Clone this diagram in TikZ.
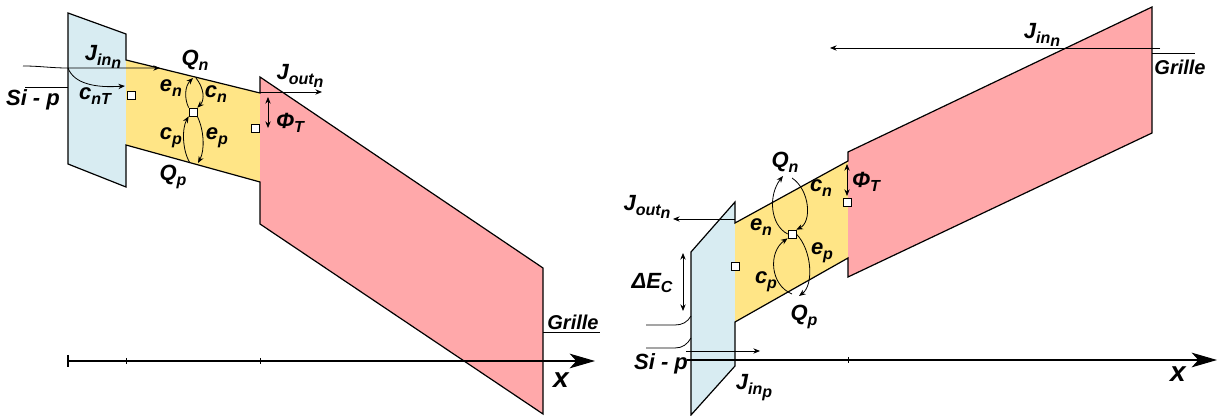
\documentclass[tikz,border=0pt]{standalone}
\usepackage{fontspec}
\setmainfont{Liberation Sans}
\usetikzlibrary{arrows.meta}
\definecolor{oxblue}{RGB}{216,236,242}
\definecolor{chyellow}{RGB}{255,229,134}
\definecolor{grpink}{RGB}{255,168,170}
\newcommand{\lsub}[1]{\raisebox{-0.4ex}{\fontsize{12}{14}\selectfont #1}}

\begin{document}
\begin{tikzpicture}[x=0.75pt, y=-0.75pt, >={Stealth[length=5pt,width=4pt]},
    lbl/.style={font=\fontsize{16.5}{18}\selectfont\bfseries\itshape, inner sep=0pt},
    grlbl/.style={font=\fontsize{15}{17}\selectfont\bfseries\itshape, inner sep=0pt},
    axlbl/.style={font=\fontsize{21}{23}\selectfont\bfseries\itshape, inner sep=0pt},
    trap/.style={draw, fill=white, line width=0.5pt, minimum size=6pt, inner sep=0pt},
    band/.style={line width=0.9pt, line join=miter},
    flux/.style={->, line width=0.6pt},
    axis/.style={-{Stealth[length=19pt,width=11pt,inset=5pt]}, line width=0.8pt}]
    \useasboundingbox (0,0) rectangle (1218,416);

    % Regions (left: programming)
    \fill[oxblue] (68,13) -- (126,34) -- (126,187) -- (68,164) -- cycle;
    \fill[chyellow] (126,60) -- (260,93) -- (260,182) -- (126,145) -- cycle;
    \fill[grpink] (260,77) -- (543,268) -- (543,414) -- (260,224) -- cycle;
    % Regions (right: erasing)
    \fill[oxblue] (691,252) -- (735,202) -- (735,366) -- (691,415) -- cycle;
    \fill[chyellow] (735,223) -- (848,161) -- (848,258) -- (735,322) -- cycle;
    \fill[grpink] (848,152) -- (1152,7) -- (1152,133) -- (848,277) -- cycle;

    % Axes
    \draw[axis] (68,361) -- (595,361);
    \draw[line width=0.8pt] (68,355) -- (68,367);
    \draw[line width=0.6pt] (126,358) -- (126,364) (260,358) -- (260,364);
    \draw[axis] (687,360) -- (1217,360);
    \draw[line width=0.6pt] (848,357) -- (848,363);

    % Band edges
    \draw[band] (68,13) -- (126,34) -- (126,60) -- (260,93) -- (260,77) -- (543,268)
        -- (543,414) -- (260,224) -- (260,182) -- (126,145) -- (126,187) -- (68,164) -- cycle;
    \draw[band] (691,252) -- (735,202) -- (735,223) -- (848,161) -- (848,152) -- (1152,7)
        -- (1152,133) -- (848,277) -- (848,258) -- (735,322) -- (735,366) -- (691,415) -- cycle;
    \draw[line width=0.6pt] (25,87) -- (68,87);
    \draw[line width=0.6pt] (543,332) -- (600,332);
    \draw[line width=0.6pt] (1152,53) -- (1195,53);
    \draw[line width=0.6pt] (646,325) -- (675,325) to[out=0,in=-120] (691,316);
    \draw[line width=0.6pt] (646,348) -- (675,348) to[out=0,in=-120] (691,338);

    % Nodes (left)
    \node (trL1) [trap] at (131,95) {};
    \node (trL2) [trap] at (193,112) {};
    \node (trL3) [trap] at (255,128) {};
    \node (jinL) [lbl] at (103,57) {J\lsub{in\lsub{n}}};
    \node (cntL) [lbl] at (95,96) {c\lsub{nT}};
    \node (sipL) [lbl] at (33,100) {Si - p};
    \node (qnL) [lbl] at (195,60) {Q\lsub{n}};
    \node (enL) [lbl] at (171,88) {e\lsub{n}};
    \node (cnL) [lbl] at (216,94) {c\lsub{n}};
    \node (cpL) [lbl] at (171,138) {c\lsub{p}};
    \node (epL) [lbl] at (217,138) {e\lsub{p}};
    \node (qpL) [lbl] at (173,177) {Q\lsub{p}};
    \node (joutL) [lbl] at (300,76) {J\lsub{out\lsub{n}}};
    \node (phiL) [lbl] at (290,123) {Φ\lsub{T}};
    \node (grL) [grlbl] at (573,322) {Grille};
    \node (xL) [axlbl] at (561,380) {x};

    % Nodes (right)
    \node (trR1) [trap] at (735,266) {};
    \node (trR2) [trap] at (792,234) {};
    \node (trR3) [trap] at (847,202) {};
    \node (jinR) [lbl] at (1042,35) {J\lsub{in\lsub{n}}};
    \node (grR) [grlbl] at (1180,67) {Grille};
    \node (joutR) [lbl] at (647,207) {J\lsub{out\lsub{n}}};
    \node (decR) [lbl] at (652,283) {ΔE\lsub{C}};
    \node (sipR) [lbl] at (661,364) {Si - p};
    \node (jinpR) [lbl] at (754,388) {J\lsub{in\lsub{p}}};
    \node (qnR) [lbl] at (785,162) {Q\lsub{n}};
    \node (cnR) [lbl] at (821,188) {c\lsub{n}};
    \node (enR) [lbl] at (761,227) {e\lsub{n}};
    \node (epR) [lbl] at (822,253) {e\lsub{p}};
    \node (cpR) [lbl] at (766,282) {c\lsub{p}};
    \node (qpR) [lbl] at (804,317) {Q\lsub{p}};
    \node (phiR) [lbl] at (866,182) {Φ\lsub{T}};
    \node (xR) [axlbl] at (1178,374) {x};

    % Free ends
    \coordinate (jinL0) at (23,66);
    \coordinate (jinL1) at (68,68);
    \coordinate (jinL2) at (160,68);
    \coordinate (cntL1) at (125,86);
    \coordinate (joutL1) at (260,92);
    \coordinate (joutL2) at (322,92);
    \coordinate (phiL1) at (268,97);
    \coordinate (phiL2) at (268,128);
    \coordinate (enL1) at (193,78);
    \coordinate (cnL1) at (196,78);
    \coordinate (cpL1) at (190,163);
    \coordinate (epL1) at (198,163);
    \coordinate (jinR1) at (1160,48);
    \coordinate (jinR2) at (830,48);
    \coordinate (joutR1) at (735,219);
    \coordinate (joutR2) at (673,219);
    \coordinate (decR1) at (683,253);
    \coordinate (decR2) at (683,311);
    \coordinate (jinpR1) at (686,351);
    \coordinate (jinpR2) at (760,351);
    \coordinate (phiR1) at (847,164);
    \coordinate (phiR2) at (847,196);
    \coordinate (enR1) at (783,176);
    \coordinate (cnR1) at (792,178);
    \coordinate (cpR1) at (792,294);
    \coordinate (epR1) at (799,296);

    % Connections (left)
    \draw[flux] (jinL0) to[out=0,in=180] (jinL1) -- (jinL2);
    \draw[flux] (jinL1) .. controls (74,84) and (96,88) .. (cntL1);
    \draw[flux] (joutL1) -- (joutL2);
    \draw[<->, line width=0.6pt] (phiL1) -- (phiL2);
    \draw[flux] (trL2.north west) .. controls (184,98) and (185,86) .. (enL1);
    \draw[flux] (cnL1) .. controls (204,88) and (205,100) .. (trL2.north east);
    \draw[flux] (cpL1) .. controls (182,150) and (182,128) .. (trL2.south west);
    \draw[flux] (trL2.south east) .. controls (204,130) and (205,150) .. (epL1);

    % Connections (right)
    \draw[flux] (jinR1) -- (jinR2);
    \draw[flux] (joutR1) -- (joutR2);
    \draw[<->, line width=0.6pt] (decR1) -- (decR2);
    \draw[flux] (jinpR1) -- (jinpR2);
    \draw[<->, line width=0.6pt] (phiR1) -- (phiR2);
    \draw[flux] (trR2.west) .. controls (770,225) and (768,195) .. (enR1);
    \draw[flux] (cnR1) .. controls (810,190) and (812,222) .. (trR2.north east);
    \draw[flux] (cpR1) .. controls (770,285) and (768,252) .. (trR2.south west);
    \draw[flux] (trR2.east) .. controls (812,250) and (814,285) .. (epR1);
\end{tikzpicture}
\end{document}
